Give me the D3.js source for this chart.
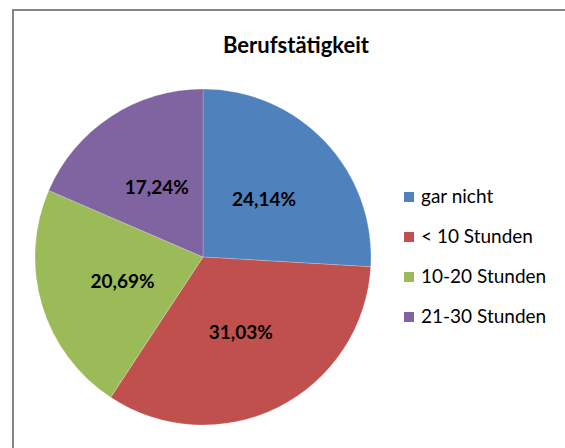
<!DOCTYPE html>
<html>
<head>
<meta charset="utf-8">
<script src="https://cdn.jsdelivr.net/npm/d3@7"></script>
<style>
  body { margin: 0; background: #fff; }
</style>
</head>
<body>
<div id="chart"></div>
<script>
const categories = ["gar nicht", "< 10 Stunden", "10-20 Stunden", "21-30 Stunden"];
const percents = [24.14, 31.03, 20.69, 17.24];
const colors = ["#4F81BD", "#C0504D", "#9BBB59", "#8064A2"];
const title = "Berufstätigkeit";

const width = 565, height = 448;
const fontFamily = "Lato, 'Open Sans', sans-serif";

const svg = d3.select("#chart")
  .append("svg")
    .attr("width", width)
    .attr("height", height);

// chart frame (right and bottom run off the picture)
svg.append("rect")
  .attr("x", 13)
  .attr("y", 10)
  .attr("width", 600)
  .attr("height", 500)
  .attr("fill", "none")
  .attr("stroke", "#868686")
  .attr("stroke-width", 2);

svg.append("text")
  .text(title)
  .attr("x", 296)
  .attr("y", 53)
  .attr("text-anchor", "middle")
  .style("font-family", fontFamily)
  .style("font-weight", "bold")
  .style("font-size", "22px")
  .attr("fill", "#000");

const cx = 203, cy = 257, radius = 168;

const data = categories.map((c, i) => ({ cat: c, value: percents[i], color: colors[i] }));

const pie = d3.pie()
  .value(d => d.value)
  .sort(null);

const arc = d3.arc()
  .innerRadius(0)
  .outerRadius(radius);

const labelArc = d3.arc()
  .innerRadius(radius * 0.5)
  .outerRadius(radius * 0.5);

const g = svg.append("g")
  .attr("transform", `translate(${cx}, ${cy})`);

const slices = g.selectAll("g.slice")
  .data(pie(data))
  .join("g")
  .attr("class", "slice");

slices.append("path")
  .attr("d", arc)
  .attr("fill", d => d.data.color)
  .attr("stroke", "#fff")
  .attr("stroke-opacity", 0.35)
  .attr("stroke-width", 0.6);

const fmt = v => d3.format(".2f")(v).replace(".", ",") + "%";

slices.append("text")
  .text(d => fmt(d.data.value))
  .attr("transform", d => `translate(${labelArc.centroid(d)})`)
  .attr("dy", 2)
  .attr("text-anchor", "middle")
  .attr("dominant-baseline", "middle")
  .style("font-family", fontFamily)
  .style("font-weight", "bold")
  .style("font-size", "19px")
  .attr("fill", "#000");

// legend
const legendY = d3.scalePoint()
  .domain(categories)
  .range([197, 317]);

const legend = svg.selectAll("g.legend-item")
  .data(data)
  .join("g")
  .attr("class", "legend-item")
  .attr("transform", d => `translate(404, ${legendY(d.cat)})`);

legend.append("rect")
  .attr("x", 0)
  .attr("y", -5)
  .attr("width", 10)
  .attr("height", 10)
  .attr("fill", d => d.color);

legend.append("text")
  .text(d => d.cat)
  .attr("x", 17)
  .attr("y", 1)
  .attr("dominant-baseline", "middle")
  .style("font-family", fontFamily)
  .style("font-size", "19px")
  .attr("fill", "#000");
</script>
</body>
</html>
